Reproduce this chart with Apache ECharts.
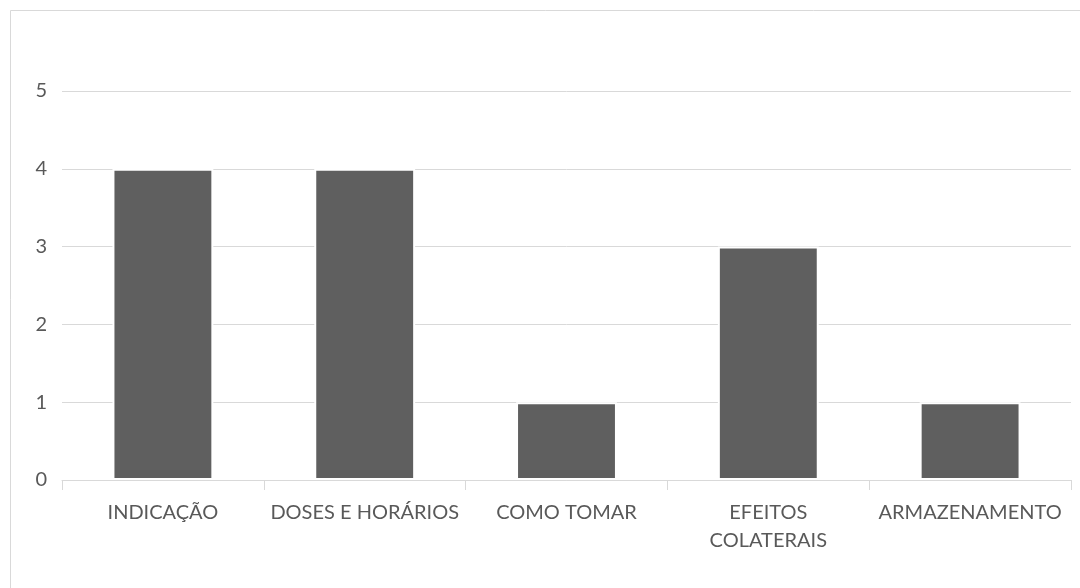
<!DOCTYPE html>
<html>
<head>
<meta charset="utf-8">
<script src="https://cdn.jsdelivr.net/npm/echarts@6/dist/echarts.min.js"></script>
<style>
  html, body { margin: 0; padding: 0; background: #fff; }
  #chart { width: 1080px; height: 588px; }
</style>
</head>
<body>
<div id="chart"></div>
<script>
// Topics covered and how many times each was mentioned
const categories = ['INDICAÇÃO', 'DOSES E HORÁRIOS', 'COMO TOMAR', 'EFEITOS\nCOLATERAIS', 'ARMAZENAMENTO'];
const counts = [4, 4, 1, 3, 1];
const yTicks = [0, 1, 2, 3, 4, 5];

const chart = echarts.init(document.getElementById('chart'), null, { renderer: 'canvas' });
const font = 'Lato, "Open Sans", sans-serif';

chart.setOption({
  animation: false,
  backgroundColor: '#ffffff',
  // Chart frame: only its top and left edges fall inside the canvas
  graphic: [{
    type: 'rect',
    left: 8, top: 8,
    shape: { width: 1100, height: 600 },
    style: { fill: 'none', stroke: '#d9d9d9', lineWidth: 1 },
    silent: true
  }],
  grid: { left: 62, right: 9, top: 91, bottom: 108, containLabel: false },
  xAxis: {
    type: 'category',
    data: categories,
    axisLine: { show: true, lineStyle: { color: '#d9d9d9', width: 1 } },
    axisTick: { show: true, length: 10, lineStyle: { color: '#d9d9d9' } },
    axisLabel: {
      color: '#595959', fontFamily: font, fontSize: 20,
      margin: 19, lineHeight: 28, interval: 0
    },
    splitLine: { show: false }
  },
  yAxis: {
    type: 'value',
    min: yTicks[0],
    max: yTicks[yTicks.length - 1],
    interval: 1,
    axisLine: { show: false },
    axisTick: { show: false },
    axisLabel: { color: '#595959', fontFamily: font, fontSize: 20, margin: 15 },
    splitLine: { lineStyle: { color: '#d9d9d9', width: 1 } }
  },
  series: [{
    type: 'bar',
    data: counts,
    barWidth: '50%',
    itemStyle: { color: '#5f5f5f', borderColor: '#ffffff', borderWidth: 2 }
  }]
});
</script>
</body>
</html>
